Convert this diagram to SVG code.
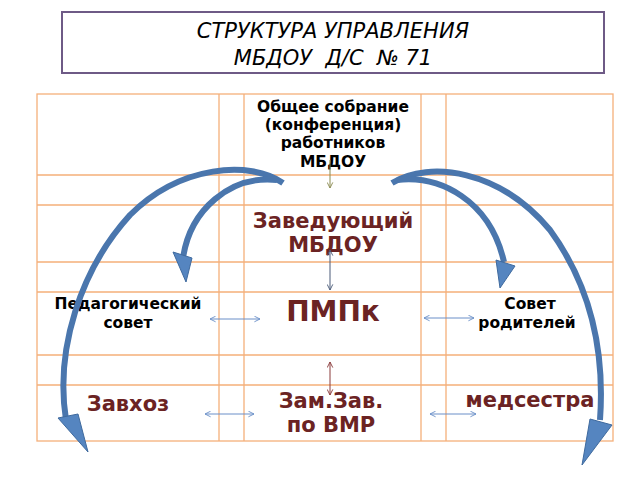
<svg xmlns="http://www.w3.org/2000/svg" width="640" height="480" viewBox="0 0 640 480">
<defs>
<style>
.g{stroke:#f5b07a;stroke-width:1.3;fill:none}
.t{font-family:"DejaVu Sans",sans-serif;font-weight:bold;text-anchor:middle}
.k{fill:#000;font-size:15.5px}
.r{fill:#6b2323;font-size:21px}
.c{fill:none;stroke-width:1}
.big{fill:none;stroke:#4a76ad;stroke-width:6}
.head{fill:#5585c0;stroke:#3f6a9e;stroke-width:1}
</style>
<marker id="o" viewBox="0 0 10 10" refX="9" refY="5" markerWidth="7" markerHeight="7" orient="auto-start-reverse"><path d="M1,1 L9,5 L1,9" fill="none" stroke="context-stroke" stroke-width="1.3"/></marker>
</defs>
<rect width="640" height="480" fill="#fff"/>
<g id="title">
<rect x="62" y="12" width="542" height="61" fill="#fff" stroke="#6e5a86" stroke-width="2"/>
<text x="333" y="38" font-family="DejaVu Sans,sans-serif" font-style="italic" font-size="21" text-anchor="middle">СТРУКТУРА УПРАВЛЕНИЯ</text>
<text x="333" y="65" font-family="DejaVu Sans,sans-serif" font-style="italic" font-size="21" text-anchor="middle" xml:space="preserve">МБДОУ  Д/С  № 71</text>
</g>
<g id="grid" class="g">
<rect x="37" y="94" width="576" height="347"/>
<path d="M219,94V441M244,94V441M421,94V441M446,94V441M37,175H613M37,205H613M37,262H613M37,292H613M37,355H613M37,385H613"/>
</g>
<g id="n-sobranie" class="t k"><text x="333" y="112">Общее собрание</text><text x="333" y="130">(конференция)</text><text x="333" y="148">работников</text><text x="333" y="167">МБДОУ</text></g>
<g id="n-zav" class="t r"><text x="333" y="228">Заведующий</text><text x="333" y="252">МБДОУ</text></g>
<g id="n-pmpk" class="t r"><text x="333" y="321" style="font-size:28px">ПМПк</text></g>
<g id="n-ped" class="t k"><text x="128" y="309">Педагогический</text><text x="128" y="328">совет</text></g>
<g id="n-sovet" class="t k"><text x="530" y="309">Совет</text><text x="527" y="328">родителей</text></g>
<g id="n-zavhoz" class="t r"><text x="128" y="411">Завхоз</text></g>
<g id="n-zamzav" class="t r"><text x="331" y="408">Зам.Зав.</text><text x="331" y="432">по ВМР</text></g>
<g id="n-med" class="t r"><text x="530" y="407">медсестра</text></g>
<g id="connectors">
<path class="c" stroke="#8a8a50" d="M330,160V188" marker-end="url(#o)"/>
<path class="c" stroke="#4a5a78" d="M330,250V290" marker-start="url(#o)" marker-end="url(#o)"/>
<path class="c" stroke="#8a3a3a" d="M330,362V395" marker-start="url(#o)" marker-end="url(#o)"/>
<path class="c" stroke="#6a8fc8" d="M210,319H260" marker-start="url(#o)" marker-end="url(#o)"/>
<path class="c" stroke="#6a8fc8" d="M424,318H474" marker-start="url(#o)" marker-end="url(#o)"/>
<path class="c" stroke="#6a8fc8" d="M205,414H254" marker-start="url(#o)" marker-end="url(#o)"/>
<path class="c" stroke="#6a8fc8" d="M430,414H476" marker-start="url(#o)" marker-end="url(#o)"/>
<path class="big" d="M283,183 C250,160 180,165 130,215 C80,270 55,350 66,420"/>
<polygon class="head" points="58,418 78,414 88,452"/>
<path class="big" stroke-width="3" d="M277,180 C230,175 190,210 183,258"/>
<polygon class="head" points="173,252 192,258 186,282"/>
<path class="big" d="M392,183 C430,160 500,170 550,230 C590,285 605,350 600,420"/>
<polygon class="head" points="590,419 612,425 582,465"/>
<path class="big" stroke-width="3" d="M397,180 C440,175 490,200 504,262"/>
<polygon class="head" points="496,260 515,266 500,288"/>
</g>
</svg>
